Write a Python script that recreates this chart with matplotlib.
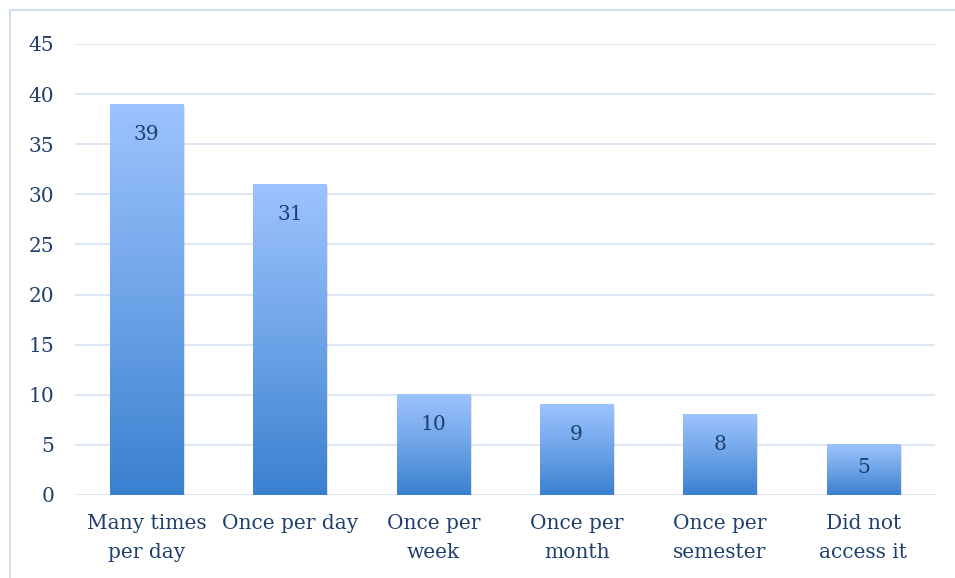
import numpy as np
import matplotlib.pyplot as plt
from matplotlib.colors import LinearSegmentedColormap
from matplotlib.lines import Line2D
from matplotlib.patches import Rectangle

categories = ['Many times\nper day', 'Once per day', 'Once per\nweek',
              'Once per\nmonth', 'Once per\nsemester', 'Did not\naccess it']
counts = [39, 31, 10, 9, 8, 5]
yticks = [0, 5, 10, 15, 20, 25, 30, 35, 40, 45]

text_color = '#1F3F6E'
grid_color = '#D9E4F4'
frame_color = '#D3DEEE'
bar_cmap = LinearSegmentedColormap.from_list('bar', ['#3A80D0', '#6EA4E8', '#9DC3FE'])

plt.rcParams['font.family'] = ['DejaVu Serif']

fig = plt.figure(figsize=(9.55, 5.78), dpi=100)
ax = fig.add_axes([0.0785, 0.1436, 0.9005, 0.7803])

# frame lines along the top and left of the chart
fig.add_artist(Line2D([9.5 / 955, 1], [1 - 9.5 / 578] * 2, transform=fig.transFigure,
                      color=frame_color, linewidth=1.5))
fig.add_artist(Line2D([9.5 / 955] * 2, [0, 1 - 9.5 / 578], transform=fig.transFigure,
                      color=frame_color, linewidth=1.5))

width = 0.51
x = np.arange(len(categories))
grad = np.linspace(0, 1, 256).reshape(-1, 1)
for xi, v in zip(x, counts):
    # soft shadow on the right and bottom
    ax.add_patch(Rectangle((xi - width / 2 + 0.012, -0.15), width, v,
                           facecolor='#000000', alpha=0.10, edgecolor='none', zorder=2))
    ax.imshow(grad, cmap=bar_cmap, origin='lower', aspect='auto',
              extent=[xi - width / 2, xi + width / 2, 0, v], zorder=3)
    label_y = v - min(3.0, 0.46 * v)
    ax.text(xi, label_y, str(v), ha='center', va='center', fontsize=14.5,
            color=text_color, zorder=4)

ax.set_xlim(-0.5, len(categories) - 0.5)
ax.set_ylim(0, 45)
ax.set_yticks(yticks)
ax.set_xticks(x)
ax.set_xticklabels(categories, fontsize=14.5, color=text_color, linespacing=1.65)
ax.tick_params(axis='y', labelsize=14.5, labelcolor=text_color, length=0, pad=15)
ax.tick_params(axis='x', length=0, pad=14)
ax.grid(axis='y', color=grid_color, linewidth=1.3, zorder=0)
ax.set_axisbelow(True)
for s in ax.spines.values():
    s.set_visible(False)

fig.savefig('out.png', dpi=100)
